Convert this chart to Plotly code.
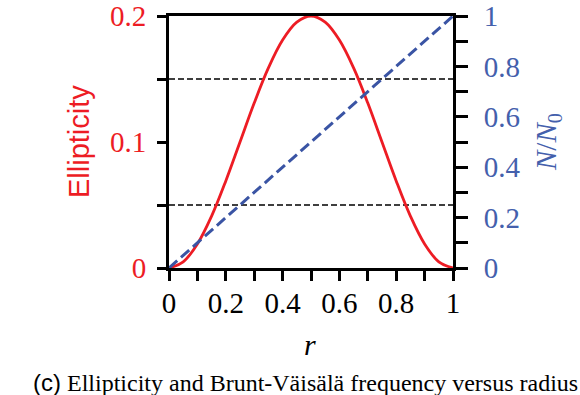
import plotly.graph_objects as go

# Radius samples and ellipticity profile
r_vals = [0.0, 0.05, 0.1, 0.15, 0.2, 0.25, 0.3, 0.35, 0.4, 0.45, 0.5,
          0.55, 0.6, 0.65, 0.7, 0.75, 0.8, 0.85, 0.9, 0.95, 1.0]
ellipticity = [0.0, 0.0049, 0.0191, 0.0412, 0.0691, 0.1, 0.1309, 0.1588, 0.1809, 0.1951, 0.2,
               0.1951, 0.1809, 0.1588, 0.1309, 0.1, 0.0691, 0.0412, 0.0191, 0.0049, 0.0]

# Brunt-Väisälä frequency (normalised)
r_n = [0.0, 1.0]
n_ratio = [0.0, 1.0]

# Reference ellipticity levels
ref_levels = [0.05, 0.15]

x_ticks = [0, 0.2, 0.4, 0.6, 0.8, 1]
x_ticklabels = ["0", "0.2", "0.4", "0.6", "0.8", "1"]
y_ticks = [0, 0.1, 0.2]
y_ticklabels = ["0", "0.1", "0.2"]
y2_ticks = [0, 0.2, 0.4, 0.6, 0.8, 1]
y2_ticklabels = ["0", "0.2", "0.4", "0.6", "0.8", "1"]

RED = "#ED1C24"
BLUE = "#3A54A4"
BLUE_TXT = "#4460AC"
SERIF = "Liberation Serif"
SANS = "Liberation Sans"

fig = go.Figure()

for lvl in ref_levels:
    fig.add_trace(go.Scatter(x=[0, 1], y=[lvl, lvl], mode="lines",
                             line=dict(color="black", width=1.5, dash="6px,3px"),
                             showlegend=False, hoverinfo="skip"))

fig.add_trace(go.Scatter(x=r_vals, y=ellipticity, mode="lines",
                         line=dict(color=RED, width=2.8, shape="spline", smoothing=1.0),
                         showlegend=False))

fig.add_trace(go.Scatter(x=r_n, y=n_ratio, mode="lines", yaxis="y2",
                         line=dict(color=BLUE, width=3, dash="11px,5px"),
                         showlegend=False))

axis_common = dict(showline=True, linecolor="black", linewidth=3, ticks="outside",
                   tickcolor="black", tickwidth=3, showgrid=False, zeroline=False,
                   automargin=False)

fig.update_layout(
    width=580, height=395,
    margin=dict(l=169, r=127, t=16, b=127),
    plot_bgcolor="white", paper_bgcolor="white",
    xaxis=dict(range=[0, 1], tickvals=x_ticks, ticktext=x_ticklabels, ticklen=10,
               tickfont=dict(family=SERIF, size=29, color="black"),
               mirror=True, ticklabelstandoff=-3,
               minor=dict(dtick=0.1, ticks="outside", ticklen=10, tickwidth=3, tickcolor="black"),
               **axis_common),
    yaxis=dict(range=[0, 0.2], tickvals=y_ticks, ticktext=y_ticklabels, ticklen=9,
               tickfont=dict(family=SERIF, size=29, color=RED),
               ticklabelstandoff=5,
               minor=dict(dtick=0.05, ticks="outside", ticklen=9, tickwidth=3, tickcolor="black"),
               **axis_common),
    yaxis2=dict(range=[0, 1], overlaying="y", side="right", tickvals=y2_ticks,
                ticktext=y2_ticklabels, ticklen=12,
                tickfont=dict(family=SERIF, size=29, color=BLUE_TXT),
                ticklabelstandoff=10,
                minor=dict(dtick=0.1, ticks="outside", ticklen=12, tickwidth=3, tickcolor="black"),
                **axis_common),
)

fig.add_annotation(text="Ellipticity", xref="paper", yref="paper",
                   x=(79 - 169) / 284, y=0.5, xanchor="center", yanchor="middle",
                   textangle=-90, showarrow=False,
                   font=dict(family=SANS, size=29, color=RED))
fig.add_annotation(text="<i>N</i>/<i>N</i><sub>0</sub>", xref="paper", yref="paper",
                   x=(548 - 169) / 284, y=0.5, xanchor="center", yanchor="middle",
                   textangle=-90, showarrow=False,
                   font=dict(family=SERIF, size=29, color=BLUE_TXT))
fig.add_annotation(text="<i>r</i>", xref="paper", yref="paper",
                   x=(310 - 169) / 284, y=(268 - 344) / 252, xanchor="center", yanchor="middle",
                   showarrow=False, font=dict(family=SERIF, size=30, color="black"))
fig.add_annotation(text="<span style='font-family:Liberation Sans'>(c)</span> "
                        "Ellipticity and Brunt-Väisälä frequency versus radius",
                   xref="paper", yref="paper",
                   x=(305 - 169) / 284, y=(268 - 382) / 252, xanchor="center", yanchor="middle",
                   showarrow=False, font=dict(family=SERIF, size=24, color="black"))

fig.write_html("out.html")
